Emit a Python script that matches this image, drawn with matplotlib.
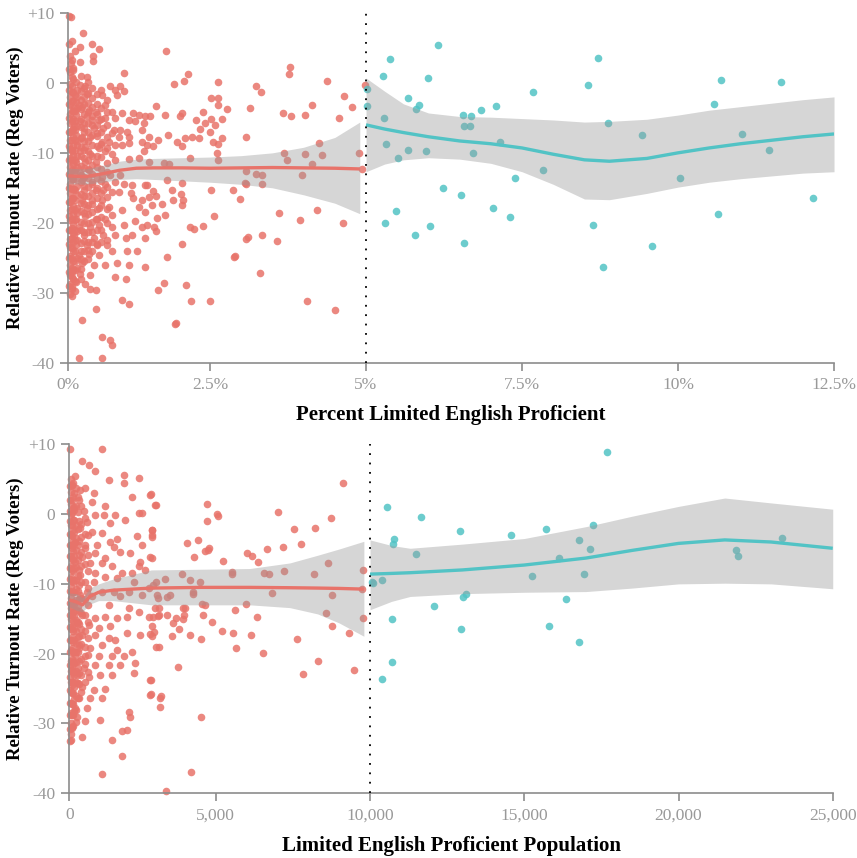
import numpy as np
import matplotlib
matplotlib.use("Agg")
import matplotlib.pyplot as plt

plt.rcParams['font.family'] = ['Liberation Serif', 'DejaVu Serif']

# --- DATA ---
# top panel: percent LEP vs relative turnout
top_red_pts = [
    (0.04, 9.4), (0.26, 7.1), (0.42, 5.6), (0.55, 4.9), (0.20, 5.2), (0.43, 3.8), (0.44, 3.1), (0.05, 2.9),
    (0.21, 3.0), (0.08, 1.9), (0.98, 1.4), (0.33, 0.9), (0.13, 0.1), (0.21, -0.3), (0.07, -0.5), (0.30, -0.5),
    (0.42, -0.7), (0.57, -1.0), (0.74, -0.5), (0.92, -0.4), (0.83, -1.0), (0.98, -1.1), (0.33, -1.6), (0.60, -1.7),
    (0.86, -1.7), (0.64, -3.1), (0.13, -2.7), (0.18, -3.1), (0.10, -3.6), (0.24, -3.4), (0.36, -3.9), (0.48, -4.1),
    (0.77, -4.2), (0.95, -4.3), (1.14, -4.3), (1.24, -4.6), (1.36, -4.8), (1.45, -4.7), (1.07, -5.3), (1.18, -5.5),
    (1.33, -5.8), (0.33, -4.8), (0.42, -5.3), (0.54, -5.3), (0.65, -5.0), (0.83, -5.0), (0.13, -4.6), (0.21, -5.5),
    (0.10, -6.0), (0.27, -6.5), (0.45, -6.5), (0.62, -6.5), (0.80, -6.7), (0.92, -6.7), (1.04, -7.0), (0.77, -7.2),
    (0.89, -7.7), (1.07, -7.7), (1.30, -6.7), (1.42, -7.7), (0.51, -7.2), (0.39, -7.7), (0.24, -7.7), (0.13, -7.4),
    (0.60, -8.4), (0.71, -8.4), (0.83, -8.9), (0.95, -8.9), (1.07, -8.6), (1.30, -8.4), (1.39, -8.9), (0.54, -9.3),
    (0.30, -9.1), (0.15, -8.9), (0.07, -9.8), (0.21, -9.8), (0.39, -10.1), (0.65, -9.8), (0.77, -10.1), (0.83, -11.0),
    (1.33, -9.8), (1.42, -11.3), (1.24, -10.8), (1.07, -10.9), (0.13, -11.3), (0.30, -11.3), (0.48, -11.3), (0.10, -12.7),
    (0.21, -12.9), (0.36, -12.5), (0.60, -13.4), (0.74, -13.2), (0.92, -13.2), (0.24, -13.9), (0.42, -14.1), (0.65, -14.4),
    (0.83, -14.1), (0.98, -14.4), (1.12, -14.6), (1.36, -14.6), (0.10, -15.1), (0.27, -15.3), (0.48, -15.3), (0.62, -15.3),
    (0.77, -15.6), (0.89, -15.6), (1.10, -15.8), (1.15, -16.5), (1.30, -16.7), (1.42, -16.3), (0.07, -16.5), (0.24, -16.7),
    (0.42, -16.7), (0.60, -16.7), (0.15, -17.9), (0.33, -17.9), (0.54, -17.9), (0.71, -17.7), (0.95, -18.2), (1.24, -17.7),
    (1.36, -18.4), (0.13, -19.4), (0.30, -19.1), (0.48, -19.4), (0.65, -19.4), (0.77, -18.9), (1.18, -19.8), (1.39, -20.3),
    (0.18, -20.6), (0.39, -20.6), (0.54, -20.3), (0.77, -20.6), (0.98, -20.3), (1.30, -20.6), (0.10, -21.8), (0.27, -21.8),
    (0.45, -22.2), (0.62, -21.8), (0.83, -21.8), (1.01, -22.2), (1.12, -21.8), (1.36, -22.2), (0.13, -23.2), (0.33, -23.2),
    (0.51, -23.2), (0.68, -23.2), (0.77, -24.1), (0.18, -24.6), (0.36, -24.4), (0.54, -24.6), (1.04, -24.1), (1.21, -24.1),
    (0.24, -25.8), (0.45, -26.1), (0.65, -26.1), (0.86, -25.8), (1.07, -26.1), (1.36, -26.3), (0.07, -27.0), (0.21, -27.3),
    (0.39, -27.5), (0.83, -27.7), (1.01, -28.0), (0.13, -28.5), (0.30, -28.7), (0.07, -29.4), (0.39, -29.4), (0.48, -29.6),
    (0.95, -31.1), (1.07, -31.6), (0.48, -32.3), (0.24, -33.9), (0.60, -36.3), (0.74, -36.8), (0.77, -37.5), (0.18, -39.4),
    (0.60, -39.4),
    # 1.5% - 5%
    (1.72, 4.58), (2.12, 1.24), (2.04, 0.29), (1.86, -0.19), (2.63, 0.14), (3.24, -0.47), (3.31, -1.29), (3.78, 2.29),
    (3.77, 1.24), (4.37, 0.24), (4.64, -1.9), (4.78, -3.43), (4.56, -5.0), (4.13, -3.19), (3.67, -4.29), (3.80, -4.76),
    (4.02, -4.62), (3.14, -3.52), (2.51, -2.15), (2.63, -2.15), (2.63, -3.09), (2.78, -3.67), (1.54, -3.33), (1.71, -4.62),
    (2.00, -4.29), (1.97, -4.76), (2.25, -5.24), (2.38, -4.15), (2.51, -5.1), (2.58, -5.96), (2.69, -5.1), (2.42, -5.72),
    (2.32, -6.53), (2.18, -7.72), (2.06, -7.87), (2.31, -7.87), (2.50, -7.0), (2.55, -8.44), (2.63, -8.77), (2.70, -7.82),
    (1.92, -8.44), (2.00, -9.06), (2.62, -10.0), (2.63, -10.96), (2.15, -10.67), (1.50, -9.06), (1.59, -8.2), (1.76, -7.48),
    (3.07, -7.72), (3.08, -12.63), (3.24, -12.96), (3.33, -13.1), (3.68, -10.0), (3.74, -10.96), (4.02, -10.1), (4.30, -10.34),
    (4.25, -8.58), (4.89, -10.0), (4.13, -11.63), (3.97, -13.2), (2.51, -15.25), (2.87, -15.25), (2.98, -16.6), (3.06, -14.3),
    (2.00, -14.3), (1.83, -15.35), (1.75, -13.92), (1.68, -11.44), (1.78, -11.63), (3.33, -14.39), (3.08, -14.39), (1.98, -15.82),
    (1.85, -16.68), (2.03, -16.78), (2.01, -17.4), (2.56, -19.07), (2.22, -20.89), (2.37, -20.46), (2.15, -20.6), (2.00, -22.98),
    (1.50, -15.45), (1.38, -14.64), (1.54, -16.2), (1.65, -17.35), (1.71, -18.93), (1.56, -19.26), (1.52, -20.6), (1.55, -21.17),
    (1.47, -17.45), (3.61, -18.6), (4.21, -18.21), (3.94, -19.64), (4.63, -20.03), (2.90, -24.79), (2.88, -24.94), (3.08, -22.32),
    (3.11, -22.03), (3.33, -21.79), (3.30, -27.18), (3.57, -22.6), (1.74, -24.89), (1.69, -28.61), (2.08, -28.94), (1.59, -29.56),
    (2.16, -31.19), (2.50, -31.23), (4.05, -31.19), (4.51, -32.42), (1.90, -34.33), (1.88, -34.52), (4.98, -0.23), (4.93, -12.25),
]
# tightly packed columns right next to 0% (the solid part of the cloud)
top_red_cols = {
    0.01: [9.5, 5.5, 2.0, -1.0, -3.0, -5.0, -7.0, -9.0, -11.0, -13.0, -15.0, -17.0, -19.0, -21.0, -23.0, -25.0, -27.0, -29.0],
    0.03: [3.8, 1.5, -0.2, -2, -3.2, -4.5, -5.8, -7, -8.2, -9.5, -10.7, -12, -13.3, -14.5, -15.8, -17, -18.2,
           -19.6, -21, -22.3, -23.5, -24.8, -26, -27.5, -28.8, -30.2],
    0.06: [6.0, 3.3, 0.8, -1.3, -2.6, -4.0, -5.4, -6.8, -8.2, -9.6, -11.0, -12.4, -13.8, -15.2, -16.6, -18.0, -19.4,
           -20.8, -22.2, -23.6, -25.0, -26.4, -27.8, -29.2, -30.5],
    0.09: [2.2, 0.6, -1.3, -2.6, -4, -5.2, -6.6, -7.8, -9, -10.3, -11.6, -13.8, -15.1, -16.4, -17.6, -18.8, -20.2,
           -21.5, -22.8, -24.1, -25.4, -26.8, -28.1],
    0.12: [4.5, -1.8, -4.0, -5.4, -6.8, -8.2, -9.6, -11.0, -12.4, -13.8, -15.3, -16.8, -18.2, -19.6, -21.0, -22.5,
           -24.0, -25.4, -26.8, -28.3, -29.7],
    0.16: [-1, -2, -3.6, -6.2, -8.3, -10.4, -12, -14.7, -16, -18.6, -21.2, -22.5, -25, -26.5],
    0.22: [1.0, -1.2, -2.4, -3.8, -5.1, -6.3, -7.9, -9.2, -10.4, -11.9, -13.1, -14.2, -15.9, -17.1, -18.3, -19.9,
           -21.1, -22.9, -24.0, -25.2, -26.6, -28.0],
    0.28: [-0.8, -2.0, -3.0, -4.4, -5.8, -7.0, -8.3, -9.6, -10.8, -12.2, -13.4, -14.7, -16.2, -17.3, -18.6, -20.0,
           -21.3, -22.6, -24.1, -25.5],
    0.35: [0.2, -1.5, -2.9, -4.2, -5.7, -7.0, -8.3, -9.7, -11.0, -12.3, -13.6, -14.9, -16.1, -17.4, -18.8, -20.1,
           -21.3, -22.7, -23.9, -25.2],
    0.42: [-2.1, -3.5, -4.8, -6.0, -7.4, -8.9, -10.4, -11.7, -13.0, -14.5, -15.8, -17.3, -18.5, -19.9, -21.3, -22.8, -24.0],
    0.50: [-1.6, -3.0, -4.4, -6.0, -7.6, -9.0, -10.5, -12.0, -13.6, -15.0, -16.4, -18.0, -19.5, -21.0, -23.0],
    0.58: [-3.6, -5.2, -7.0, -8.8, -10.6, -12.3, -14.0, -15.8, -17.5, -19.2, -21.0, -22.8],
    0.68: [-2.4, -4.2, -6.0, -7.8, -9.3, -11.5, -12.8, -14.9, -16.3, -18.0, -20.0, -22.5],
}
top_teal_pts = [
    (6.16, 5.39), (5.38, 3.39), (8.72, 3.63), (5.28, 0.96), (5.99, 0.63), (8.55, -0.33), (10.69, 0.39), (11.65, 0.15),
    (7.67, -1.29), (5.67, -2.23), (10.58, -2.95), (5.85, -3.19), (5.80, -3.67), (7.08, -3.34), (6.84, -3.81), (6.56, -4.53),
    (6.68, -4.76), (5.29, -4.95), (6.57, -6.19), (6.66, -6.19), (8.87, -5.72), (9.43, -7.39), (11.03, -7.24), (5.32, -8.67),
    (7.15, -8.44), (5.68, -9.53), (5.96, -9.67), (6.72, -10.06), (5.52, -10.73), (11.46, -9.63), (7.84, -12.44), (7.39, -13.54),
    (10.03, -13.54), (12.17, -16.4), (6.23, -15.06), (6.53, -16.07), (5.48, -18.35), (7.04, -17.88), (5.30, -20.07), (7.31, -19.21),
    (6.03, -20.45), (5.79, -21.69), (8.64, -20.26), (10.64, -18.69), (6.57, -22.93), (9.58, -23.36), (8.80, -26.37), (5.02, -0.81),
    (5.02, -3.33),
]
# smoothed fits (x, fit, lower, upper)
top_red_fit_x = [0, 0.3, 0.6, 0.9, 1.2, 1.5, 2.0, 2.5, 3.0, 3.5, 4.0, 4.5, 4.9]
top_red_fit_y = [-13.3, -13.4, -13.0, -12.5, -12.2, -12.15, -12.15, -12.2, -12.15, -12.1, -12.15, -12.2, -12.3]
top_red_lo = [-14.4, -14.5, -14.2, -13.8, -13.7, -13.8, -14.0, -14.2, -14.5, -15.0, -16.0, -17.2, -18.7]
top_red_hi = [-12.2, -12.3, -11.8, -11.2, -10.9, -10.8, -10.7, -10.6, -10.4, -10.0, -9.2, -7.8, -5.6]

top_teal_fit_x = [5.0, 5.3, 5.6, 6.0, 6.5, 7.0, 7.5, 8.0, 8.5, 8.9, 9.5, 10.0, 10.5, 11.0, 11.5, 12.0, 12.5]
top_teal_fit_y = [-6.0, -6.6, -7.1, -7.7, -8.3, -8.7, -9.3, -10.2, -11.0, -11.2, -10.8, -10.0, -9.3, -8.7, -8.2, -7.7, -7.3]
top_teal_lo = [-12.7, -11.6, -11.0, -10.7, -10.9, -11.5, -12.7, -14.5, -16.6, -16.7, -15.8, -14.9, -14.2, -13.7, -13.3, -12.9, -12.7]
top_teal_hi = [0.7, -1.2, -3.0, -4.3, -4.8, -4.9, -5.1, -5.3, -5.6, -5.5, -5.2, -4.6, -3.9, -3.4, -2.9, -2.4, -2.0]

# bottom panel: LEP population vs relative turnout
bot_red_pts = [
    (1117, 9.3), (434, 7.6), (661, 7.0), (866, 6.2), (206, 5.4), (1856, 5.6), (2368, 5.1), (1344, 4.9), (92, 4.2), (377, 3.5),
    (548, 3.7), (832, 3.0), (1856, 4.4), (2141, 2.4), (2767, 2.8), (320, 2.0), (775, 1.8), (1230, 1.1), (2937, 1.3), (150, 0.6),
    (491, 0.4), (889, -0.1), (1174, -0.1), (1572, -0.1), (2368, 0.1), (2482, 0.1), (1913, -0.8), (605, -1.1), (1401, -1.3),
    (377, -2.0), (775, -2.5), (1117, -2.7), (2312, -3.2), (2824, -3.0), (2824, -2.3), (1629, -3.5), (1401, -4.0), (206, -4.0),
    (548, -4.4), (946, -4.4), (1515, -4.65), (2482, -4.4), (1743, -5.4), (2084, -5.6), (2767, -6.1), (889, -5.6), (1230, -6.3),
    (434, -6.1), (2425, -6.8), (2368, -7.5), (1458, -7.5), (1117, -7.0), (718, -7.0), (206, -6.8), (1799, -8.5), (2141, -8.5),
    (2596, -8.0), (1629, -9.2), (1230, -9.0), (377, -8.7), (889, -8.5), (832, -9.7), (605, -11.1), (1117, -11.1), (1515, -11.1),
    (2027, -11.1), (2198, -9.7), (2710, -10.6), (377, -11.6), (775, -11.8), (1743, -11.8), (2482, -11.6), (1344, -13.0),
    (2027, -13.5), (2368, -14.0), (2710, -14.7), (3051, -14.4), (92, -13.5), (434, -14.4), (889, -14.9), (1230, -14.7),
    (1629, -14.9), (1970, -14.7), (263, -15.6), (661, -15.9), (1003, -16.3), (1401, -16.1), (2824, -16.1), (2767, -17.2),
    (1970, -17.1), (3051, -19.0), (434, -17.3), (889, -17.3), (1344, -17.8), (1572, -18.0), (2425, -17.3), (320, -18.7),
    (718, -19.2), (1117, -18.7), (1629, -19.4), (2141, -19.7), (206, -20.2), (548, -20.4), (1003, -20.4), (1458, -20.4),
    (1856, -20.4), (2255, -21.4), (2198, -22.8), (92, -21.6), (491, -22.1), (889, -21.6), (1344, -21.6), (1743, -21.6),
    (263, -23.0), (661, -23.3), (1060, -23.0), (1458, -23.0), (2767, -23.7), (92, -24.5), (434, -24.7), (832, -25.2),
    (1230, -25.0), (320, -26.4), (718, -26.4), (1117, -26.4), (2767, -25.9), (3108, -26.4), (206, -27.8), (605, -27.8),
    (2027, -28.3), (2084, -29.0), (263, -29.0), (548, -29.7), (1060, -29.5), (1970, -30.9), (1799, -31.1), (92, -30.7),
    (434, -31.9), (1458, -32.3), (1799, -34.6), (1117, -37.2),
    # 2,800 - 10,000
    (2790, 2.84), (2950, 1.31), (2814, -2.27), (2835, -3.22), (2814, -6.23), (2961, -9.67), (2869, -10.14), (2985, -11.58),
    (2927, -13.48), (3040, -12.05), (3326, -11.81), (3439, -11.58), (3268, -9.28), (3839, -8.62), (4122, -9.43), (4463, -9.67),
    (4214, -11.1), (4235, -11.43), (4030, -4.18), (4405, -3.7), (4269, -6.18), (4634, -5.27), (4781, -4.89), (4747, -5.13),
    (4713, 1.41), (4692, -0.98), (5032, 0.02), (5084, -0.22), (5227, -6.71), (5518, -8.24), (5538, -8.62), (6005, -5.61),
    (6167, -5.95), (6383, -6.8), (6655, -5.04), (7031, 0.26), (7174, -4.75), (7540, -2.13), (7767, -4.27), (8221, -1.94),
    (8740, -0.5), (9119, 4.51), (6565, -8.47), (6727, -8.57), (7224, -8.09), (8198, -8.57), (8652, -7.04), (8781, -11.58),
    (6834, -11.34), (5982, -12.87), (5625, -13.72), (6329, -14.73), (8577, -14.2), (8762, -16.01), (9332, -17.06), (9786, -8.0),
    (9786, -14.92), (9731, -10.7), (4521, -12.91), (4634, -13.0), (4576, -14.44), (4863, -15.49), (3893, -13.39), (3951, -13.48),
    (3927, -14.44), (3893, -15.06), (3644, -14.92), (3552, -15.63), (3757, -16.49), (3518, -17.44), (3326, -14.44), (3040, -14.58),
    (2848, -14.68), (2893, -16.83), (2814, -17.44), (2961, -18.97), (4122, -17.3), (4487, -17.92), (5194, -16.68), (5570, -17.02),
    (5658, -19.21), (6144, -17.3), (6525, -19.83), (7626, -17.87), (8316, -21.02), (7830, -22.93), (9491, -22.31), (3702, -21.93),
    (2790, -23.74), (2790, -25.79), (3121, -25.99), (3097, -27.65), (4487, -29.14), (4156, -36.96), (3302, -39.6), (3063, -13.48),
]
bot_red_cols = {
    10: [9.3, 4.0, 2.0, 0.5, -1.0, -2.8, -4.4, -6.0, -7.7, -9.3, -11.0, -12.8, -14.5, -16.2, -18.0, -19.8, -21.6,
         -23.4, -25.2, -27.0, -28.8, -30.8, -32.5],
    40: [5, 3.2, 1.5, 0, -1.5, -3, -4.5, -6, -7.5, -9, -10.5, -12, -13.5, -15, -16.5, -18, -19.5, -21, -22.5, -24,
         -25.5, -27, -28.5, -30, -31.5, -32.3],
    80: [4.2, 2.0, 0.2, -1.6, -3.2, -4.8, -6.4, -8.0, -9.6, -11.2, -12.8, -14.4, -16.0, -17.6, -19.2, -20.8, -22.4,
         -24.0, -25.6, -27.2, -28.8, -30.5],
    120: [4.5, 2.5, 0.8, -0.8, -2.3, -3.8, -5.3, -6.6, -8.2, -9.7, -11.2, -12.6, -14, -15.3, -16.8, -18.3, -19.8,
          -21.2, -22.6, -24.1, -25.6, -27.2, -28.8, -30.3],
    170: [3.0, 1.0, -0.8, -2.6, -4.3, -6.0, -7.7, -9.4, -11.1, -12.9, -14.6, -16.3, -18.0, -19.7, -21.4, -23.1,
          -24.8, -26.5, -28.2],
    230: [3.8, 1.2, -1.5, -3.4, -5.2, -7.6, -9.4, -10.8, -12.3, -13.8, -15.2, -16.8, -18.4, -19.8, -21.2, -22.5,
          -24, -26, -28, -29.8],
    280: [2.4, 0.3, -2.2, -4.4, -6.6, -8.8, -11.0, -13.2, -15.4, -17.6, -19.8, -22.0, -24.2, -26.4],
    330: [-1, -3.8, -5.8, -8, -10.1, -12.1, -13.9, -15.8, -17.5, -19.2, -21, -22.8, -24.4],
    400: [1.2, -1.4, -3.3, -5.5, -7.5, -9.7, -12.0, -14.2, -16.4, -18.6, -20.8, -23.0, -25.5],
    520: [-0.6, -2.8, -4.8, -7.2, -9.7, -12.2, -14.5, -16.8, -19.1, -21.5, -24.0],
    650: [-3.0, -5.8, -8.2, -10.6, -13.0, -15.4, -17.8, -20.2, -22.6],
}
bot_teal_pts = [
    (17671, 8.85), (10540, 1.07), (11653, -0.41), (12917, -2.41), (14559, -2.94), (15704, -2.07), (17217, -1.6),
    (10778, -3.6), (10756, -4.27), (11491, -5.7), (16784, -3.74), (17130, -5.03), (16136, -6.23), (21862, -5.13),
    (21917, -5.95), (23364, -3.37), (15240, -8.81), (16947, -8.62), (10108, -9.81), (10378, -9.43), (10054, -9.67),
    (13025, -11.81), (13111, -11.43), (12074, -13.1), (16352, -12.1), (10724, -14.96), (12949, -16.44), (15801, -15.97),
    (16784, -18.34), (10702, -21.12), (10378, -23.64),
]
bot_red_fit_x = [0, 250, 450, 700, 1000, 1500, 2800, 4500, 6100, 7400, 8300, 9000, 9800]
bot_red_fit_y = [-12.3, -12.6, -13.0, -11.8, -11.2, -10.9, -10.6, -10.5, -10.5, -10.55, -10.6, -10.65, -10.75]
bot_red_lo = [-13.3, -13.8, -14.0, -12.9, -12.4, -12.4, -13.0, -13.0, -13.0, -13.4, -14.3, -15.6, -17.5]
bot_red_hi = [-11.3, -11.4, -12.0, -10.6, -10.0, -9.3, -8.0, -7.9, -7.8, -7.0, -5.9, -5.0, -3.9]

bot_teal_fit_x = [10000, 10700, 11300, 13000, 15000, 17000, 18500, 20000, 21500, 23000, 25000]
bot_teal_fit_y = [-8.6, -8.5, -8.4, -8.0, -7.3, -6.3, -5.2, -4.2, -3.7, -4.0, -4.9]
bot_teal_lo = [-13.7, -12.5, -11.8, -11.4, -11.2, -11.1, -10.6, -10.0, -9.9, -10.0, -10.7]
bot_teal_hi = [-3.7, -4.5, -4.9, -4.3, -3.5, -1.8, -0.3, 1.1, 2.3, 1.6, 0.7]

top_ticks = [0, 2.5, 5, 7.5, 10, 12.5]
top_ticklabels = ['0%', '2.5%', '5%', '7.5%', '10%', '12.5%']
bot_ticks = [0, 5000, 10000, 15000, 20000, 25000]
bot_ticklabels = ['0', '5,000', '10,000', '15,000', '20,000', '25,000']
y_ticks = [-40, -30, -20, -10, 0, 10]
y_ticklabels = ['-40', '-30', '-20', '-10', '0', '+10']

RED = '#E8736A'
TEAL = '#52C3C5'
AXC = '#8c8c8c'


def expand(pts, cols):
    xs = [p[0] for p in pts]
    ys = [p[1] for p in pts]
    for cx, cy in cols.items():
        xs += [cx] * len(cy)
        ys += cy
    return np.array(xs), np.array(ys)


def piecewise(knots, pix):
    # the source axis is not quite linear: first interval is a bit narrower
    knots = np.asarray(knots, float)
    pix = np.asarray(pix, float)
    fwd = lambda v: np.interp(v, knots, pix)
    inv = lambda v: np.interp(v, pix, knots)
    return fwd, inv


def draw_panel(ax, red, teal, red_fit, teal_fit, cut, xmax, ticks, ticklabels, xlabel, scale, ylab_x):
    ax.set_xscale('function', functions=scale)
    ax.scatter(red[0], red[1], s=30, color=RED, alpha=0.85, linewidths=0, zorder=2, clip_on=False)
    ax.scatter(teal[0], teal[1], s=30, color=TEAL, alpha=0.85, linewidths=0, zorder=2, clip_on=False)
    for (fx, fy, lo, hi), col in [(red_fit, RED), (teal_fit, TEAL)]:
        ax.fill_between(fx, lo, hi, color='#999999', alpha=0.4, linewidth=0, zorder=3)
        ax.plot(fx, fy, color=col, lw=2.4, zorder=4, solid_capstyle='butt')
    ax.plot([cut, cut], [-40, 10], color='black', lw=1.3, linestyle=(0, (1, 4.2)), zorder=5)

    ax.set_xlim(0, xmax)
    ax.set_ylim(-40, 10)
    ax.set_xticks(ticks)
    ax.set_xticklabels(ticklabels)
    ax.set_yticks(y_ticks)
    ax.set_yticklabels(y_ticklabels)
    for s in ['top', 'right']:
        ax.spines[s].set_visible(False)
    for s in ['left', 'bottom']:
        ax.spines[s].set_color(AXC)
        ax.spines[s].set_linewidth(1.2)
    ax.tick_params(axis='both', colors=AXC, labelcolor='#999999', length=6, width=1.2, labelsize=12.5, pad=4)
    ax.set_xlabel(xlabel, fontsize=15, fontweight='bold', labelpad=9)
    ax.set_ylabel('Relative Turnout Rate (Reg Voters)', fontsize=13.5, fontweight='bold')
    ax.yaxis.set_label_coords(ylab_x, 0.5)


fig = plt.figure(figsize=(8.57, 8.58), dpi=100)
ax1 = fig.add_axes([0.0797, 0.5773, 0.8935, 0.4076])
ax2 = fig.add_axes([0.0809, 0.0754, 0.8908, 0.4068])

t_red = expand(top_red_pts, top_red_cols)
t_teal = expand(top_teal_pts, {})
draw_panel(ax1, t_red, t_teal,
           (top_red_fit_x, top_red_fit_y, top_red_lo, top_red_hi),
           (top_teal_fit_x, top_teal_fit_y, top_teal_lo, top_teal_hi),
           5, 12.5, top_ticks, top_ticklabels, 'Percent Limited English Proficient',
           piecewise([0, 2.5, 5, 12.5], [0, 141.7, 297.7, 765.7]), -0.058)

b_red = expand(bot_red_pts, bot_red_cols)
b_teal = expand(bot_teal_pts, {})
draw_panel(ax2, b_red, b_teal,
           (bot_red_fit_x, bot_red_fit_y, bot_red_lo, bot_red_hi),
           (bot_teal_fit_x, bot_teal_fit_y, bot_teal_lo, bot_teal_hi),
           10000, 25000, bot_ticks, bot_ticklabels, 'Limited English Proficient Population',
           piecewise([0, 5000, 10000, 25000], [0, 146.4, 300.7, 763.4]), -0.059)

fig.savefig('out.png', dpi=100)
